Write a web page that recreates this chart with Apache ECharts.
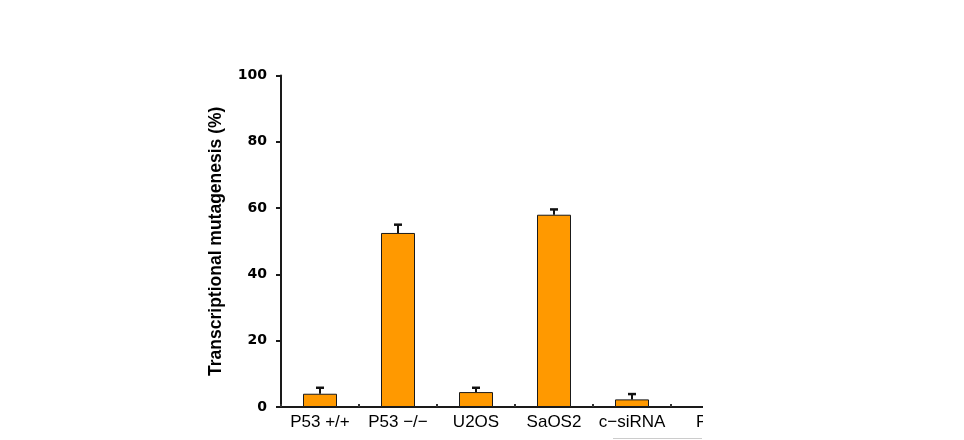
<!DOCTYPE html>
<html>
<head>
<meta charset="utf-8">
<script src="https://cdn.jsdelivr.net/npm/echarts@6/dist/echarts.min.js"></script>
<style>
html,body{margin:0;padding:0;background:#fff;}
#chart{width:964px;height:440px;}
</style>
</head>
<body>
<div id="chart"></div>
<script>
const categories = ['P53 +/+', 'P53 \u2212/\u2212', 'U2OS', 'SaOS2', 'c\u2212siRNA', 'P53 siRNA'];
const values = [4.0, 52.5, 4.5, 58.0, 2.3, null];
const errors = [1.8, 2.5, 1.3, 1.6, 1.6, null];
const yTicks = [0, 20, 40, 60, 80, 100];
const yTitle = 'Transcriptional mutagenesis (%)';

const errData = values.map((v, i) => (v == null ? null : [i, v, errors[i]])).filter(d => d);

const chart = echarts.init(document.getElementById('chart'), null, {renderer: 'canvas'});
chart.setOption({
  animation: false,
  backgroundColor: '#ffffff',
  grid: {left: 281, top: 75.5, height: 331.5, width: 468, containLabel: false},
  xAxis: {
    type: 'category',
    data: categories,
    axisLine: {lineStyle: {color: '#1a1a1a', width: 2}},
    axisTick: {show: true, inside: true, length: 3, lineStyle: {color: '#333', width: 2}},
    axisLabel: {
      interval: 0, hideOverlap: false,
      color: '#000', fontFamily: 'Liberation Sans, Arial, sans-serif', fontSize: 17, margin: 7,
      formatter: function (v) { return v === categories[5] ? '{p|' + v + '}' : v; },
      rich: {p: {padding: [0, 0, 0, 55], fontFamily: 'Liberation Sans, Arial, sans-serif', fontSize: 17, color: '#000'}}
    }
  },
  yAxis: {
    type: 'value', min: yTicks[0], max: yTicks[yTicks.length - 1], interval: 20,
    name: yTitle, nameLocation: 'middle', nameRotate: 90, nameGap: 56,
    nameTextStyle: {color: '#000', fontFamily: 'Liberation Sans, Arial, sans-serif', fontSize: 17.5, fontWeight: 'bold'},
    axisLine: {show: true, lineStyle: {color: '#1a1a1a', width: 2}},
    axisTick: {show: true, length: 5, lineStyle: {color: '#1a1a1a', width: 2}},
    splitLine: {show: false},
    axisLabel: {color: '#000', fontFamily: 'DejaVu Sans, Verdana, sans-serif', fontSize: 14, fontWeight: 'bold', margin: 14}
  },
  series: [
    {
      type: 'bar', data: values, barWidth: 34,
      itemStyle: {color: '#FF9900', borderColor: '#1a1a1a', borderWidth: 1}
    },
    {
      type: 'custom', data: errData, z: 5,
      renderItem: function (params, api) {
        const i = api.value(0), v = api.value(1), e = api.value(2);
        const p0 = api.coord([i, v]);
        const p1 = api.coord([i, v + e]);
        const hw = 4;
        return {
          type: 'group',
          children: [
            {type: 'line', shape: {x1: p0[0], y1: p0[1], x2: p1[0], y2: p1[1]}, style: {stroke: '#111', lineWidth: 2}},
            {type: 'line', shape: {x1: p1[0] - hw, y1: p1[1], x2: p1[0] + hw, y2: p1[1]}, style: {stroke: '#111', lineWidth: 2.5}}
          ]
        };
      }
    }
  ],
  graphic: [
    {type: 'rect', z: 100, shape: {x: 703, y: 0, width: 261, height: 440}, style: {fill: '#ffffff'}},
    {type: 'line', z: 101, shape: {x1: 613, y1: 438.5, x2: 702, y2: 438.5}, style: {stroke: '#cccccc', lineWidth: 1}}
  ]
});
</script>
</body>
</html>
